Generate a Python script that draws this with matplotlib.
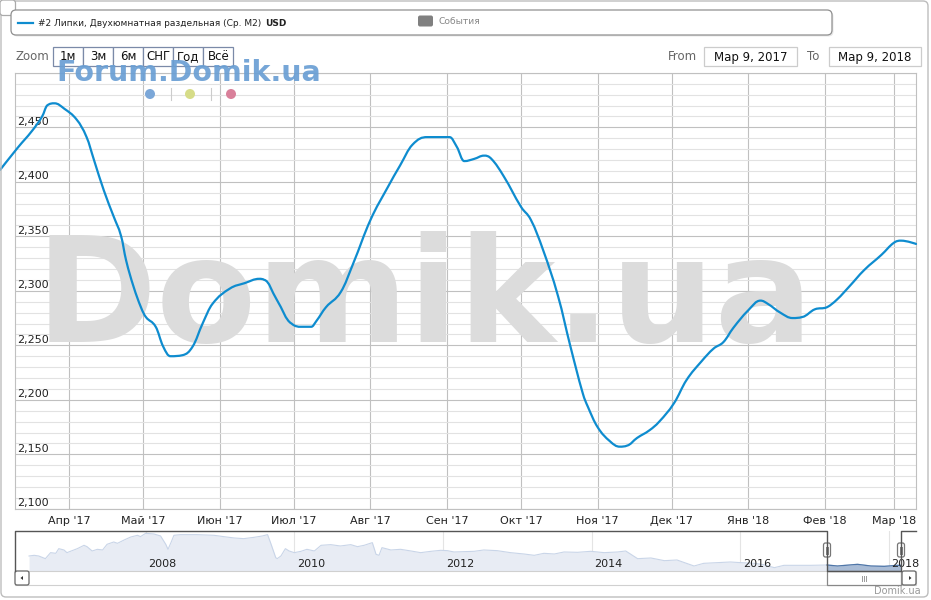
import matplotlib
matplotlib.use('Agg')
import matplotlib.pyplot as plt
import matplotlib.dates as mdates
from matplotlib.patches import FancyBboxPatch, Rectangle, Circle, Polygon, PathPatch
from matplotlib.path import Path
from matplotlib.lines import Line2D
import numpy as np
import pandas as pd
from datetime import datetime

plt.rcParams['font.family'] = ['DejaVu Sans']

# ---------------- data ----------------
dates = [
    "2017-03-04", "2017-03-11", "2017-03-17", "2017-03-21", "2017-03-23", "2017-03-26",
    "2017-03-30", "2017-04-04", "2017-04-08", "2017-04-11", "2017-04-15", "2017-04-19",
    "2017-04-22", "2017-04-24", "2017-04-27", "2017-04-30", "2017-05-02", "2017-05-06",
    "2017-05-09", "2017-05-12", "2017-05-17", "2017-05-21", "2017-05-25", "2017-05-29",
    "2017-06-05", "2017-06-11", "2017-06-17", "2017-06-19", "2017-06-24", "2017-06-30",
    "2017-07-04", "2017-07-08", "2017-07-10", "2017-07-14", "2017-07-20", "2017-07-25",
    "2017-08-01", "2017-08-08", "2017-08-13", "2017-08-18", "2017-08-24", "2017-09-02",
    "2017-09-05", "2017-09-08", "2017-09-12", "2017-09-16", "2017-09-19", "2017-09-24",
    "2017-10-01", "2017-10-05", "2017-10-10", "2017-10-16", "2017-10-21", "2017-10-26",
    "2017-10-28", "2017-11-01", "2017-11-06", "2017-11-10", "2017-11-13", "2017-11-17",
    "2017-11-22", "2017-11-26", "2017-12-02", "2017-12-07", "2017-12-13", "2017-12-18",
    "2017-12-22", "2017-12-26", "2018-01-01", "2018-01-06", "2018-01-09", "2018-01-14",
    "2018-01-19", "2018-01-23", "2018-01-28", "2018-02-02", "2018-02-06", "2018-02-11",
    "2018-02-17", "2018-02-24", "2018-03-01", "2018-03-04", "2018-03-10",
]
prices = [
    2411, 2431, 2447, 2460, 2470, 2472,
    2467, 2457, 2441, 2420, 2392, 2368,
    2350, 2328, 2304, 2285, 2276, 2267,
    2249, 2240, 2241, 2249, 2270, 2288,
    2302, 2307, 2311, 2310, 2292, 2270,
    2267, 2267, 2272, 2285, 2299, 2325,
    2365, 2395, 2415, 2434, 2441, 2441,
    2432, 2419, 2421, 2424, 2421, 2405,
    2377, 2365, 2337, 2295, 2249, 2206,
    2194, 2175, 2162, 2157, 2158, 2165,
    2172, 2180, 2197, 2218, 2235, 2247,
    2253, 2266, 2282, 2291, 2288, 2280,
    2275, 2276, 2283, 2285, 2292, 2304,
    2319, 2333, 2344, 2346, 2343,
]
month_ticks = ["2017-04-01", "2017-05-01", "2017-06-01", "2017-07-01", "2017-08-01",
               "2017-09-01", "2017-10-01", "2017-11-01", "2017-12-01", "2018-01-01",
               "2018-02-01", "2018-03-01"]
month_labels = ["Апр '17", "Май '17", "Июн '17", "Июл '17", "Авг '17", "Сен '17",
                "Окт '17", "Ноя '17", "Дек '17", "Янв '18", "Фев '18", "Мар '18"]
y_labels = [2100, 2150, 2200, 2250, 2300, 2350, 2400, 2450]

nav_years = [
    2006.43, 2006.50, 2006.56, 2006.65, 2006.72, 2006.79, 2006.83, 2006.90, 2006.94, 2007.01,
    2007.08, 2007.17, 2007.21, 2007.28, 2007.35, 2007.42, 2007.48, 2007.57, 2007.62, 2007.71,
    2007.80, 2007.89, 2007.93, 2008.00, 2008.11, 2008.20, 2008.27, 2008.30, 2008.34, 2008.38,
    2008.47, 2008.69, 2008.92, 2009.05, 2009.19, 2009.32, 2009.46, 2009.57, 2009.64, 2009.68,
    2009.75, 2009.77, 2009.82, 2009.88, 2009.93, 2010.00, 2010.09, 2010.17, 2010.27, 2010.36,
    2010.49, 2010.62, 2010.76, 2010.85, 2010.94, 2011.05, 2011.10, 2011.14, 2011.18, 2011.30,
    2011.43, 2011.57, 2011.70, 2011.84, 2011.97, 2012.06, 2012.15, 2012.42, 2012.55, 2012.73,
    2012.91, 2013.09, 2013.23, 2013.36, 2013.50, 2013.63, 2013.81, 2013.99, 2014.17, 2014.35,
    2014.46, 2014.53, 2014.62, 2014.80, 2014.98, 2015.15, 2015.38, 2015.51, 2015.69, 2015.87,
    2016.01, 2016.19, 2016.32, 2016.46, 2016.59, 2016.77, 2016.95, 2017.17, 2017.31, 2017.58,
    2017.76, 2017.94, 2018.12, 2018.16,
]
nav_values = [
    2900, 2940, 2900, 2740, 3100, 3060, 3340, 3260, 3100, 3220,
    3340, 3540, 3460, 3200, 3300, 3260, 3600, 3740, 3660, 3860,
    4040, 4140, 4060, 4260, 4220, 4100, 3600, 3300, 3700, 4140,
    4180, 4180, 4140, 4060, 3980, 3940, 4020, 4100, 4180, 3700,
    2800, 2740, 2900, 3340, 3200, 3100, 3180, 3300, 3200, 3540,
    3580, 3500, 3580, 3460, 3540, 3700, 3000, 2940, 3400, 3260,
    3300, 3200, 3100, 3180, 3240, 3220, 3140, 3180, 3260, 3220,
    3100, 3020, 2940, 3060, 3020, 3140, 3120, 3180, 3100, 3140,
    3200, 3000, 2740, 2780, 2620, 2660, 2300, 2460, 2500, 2540,
    2500, 2460, 2380, 2200, 2340, 2340, 2340, 2360, 2300, 2400,
    2300, 2280, 2340, 2340,
]
nav_year_ticks = [2008, 2010, 2012, 2014, 2016, 2018]
zoom_buttons = ["1м", "3м", "6м", "СНГ", "Год", "Всё"]
series_name = "#2 Липки, Двухюмнатная раздельная (Ср. М2)"
currency = "USD"
range_from = "Мар 9, 2017"
range_to = "Мар 9, 2018"


def spline_path(xs, ys, smoothing=1.5):
    """Smooth rendering (Highcharts-style spline) through the given points."""
    n = len(xs)
    denom = smoothing + 1
    lc = [(xs[i], ys[i]) for i in range(n)]
    rc = [(xs[i], ys[i]) for i in range(n)]
    for i in range(1, n - 1):
        px, py = xs[i], ys[i]
        lx = (smoothing * px + xs[i - 1]) / denom
        ly = (smoothing * py + ys[i - 1]) / denom
        rx = (smoothing * px + xs[i + 1]) / denom
        ry = (smoothing * py + ys[i + 1]) / denom
        if rx != lx:
            corr = ((ry - ly) * (rx - px)) / (rx - lx) + py - ry
            ly += corr
            ry += corr
        ly_prev, ly_next = ys[i - 1], ys[i + 1]
        if ly > ly_prev and ly > py:
            ly = max(ly_prev, py)
            ry = 2 * py - ly
        elif ly < ly_prev and ly < py:
            ly = min(ly_prev, py)
            ry = 2 * py - ly
        if ry > ly_next and ry > py:
            ry = max(ly_next, py)
            ly = 2 * py - ry
        elif ry < ly_next and ry < py:
            ry = min(ly_next, py)
            ly = 2 * py - ry
        lc[i] = (lx, ly)
        rc[i] = (rx, ry)
    verts = [(xs[0], ys[0])]
    codes = [Path.MOVETO]
    for i in range(1, n):
        verts += [rc[i - 1], lc[i], (xs[i], ys[i])]
        codes += [Path.CURVE4] * 3
    return Path(verts, codes)


# ---------------- figure ----------------
W, H = 931, 600
fig = plt.figure(figsize=(W / 100, H / 100), dpi=100)
fig.patch.set_facecolor('white')

ov = fig.add_axes([0, 0, 1, 1], zorder=5)
ov.set_xlim(0, W)
ov.set_ylim(H, 0)
ov.axis('off')
ov.patch.set_alpha(0)

top_px, bot_px, left_px, right_px = 72.8, 508.8, 15, 916
ax = fig.add_axes([left_px / W, 1 - bot_px / H, (right_px - left_px) / W, (bot_px - top_px) / H], zorder=2)
ax.set_facecolor('none')
x = pd.to_datetime(dates)
ax.set_xlim(datetime(2017, 3, 10), datetime(2018, 3, 10))
ax.set_ylim(2100, 2500)
ax.set_yticks(np.arange(2100, 2501, 50))
ax.set_yticks(np.arange(2100, 2501, 10), minor=True)
ax.set_xticks(pd.to_datetime(month_ticks))
ax.set_xticklabels(month_labels, fontsize=8, color='#222222')
ax.xaxis.set_minor_locator(matplotlib.ticker.NullLocator())
ax.grid(True, which='minor', axis='y', color='#e2e2e2', lw=0.8)
ax.grid(True, which='major', axis='y', color='#c0c0c0', lw=0.8)
ax.grid(True, which='major', axis='x', color='#c0c0c0', lw=0.8)
ax.tick_params(axis='both', which='both', length=0)
ax.tick_params(axis='x', pad=5)
ax.tick_params(axis='y', labelleft=False)
ax.set_axisbelow(True)
for s in ax.spines.values():
    s.set_color('#c0c0c0')
    s.set_linewidth(0.8)

for v in y_labels:
    ax.annotate(f"{v:,}", xy=(0, v), xycoords=('axes fraction', 'data'),
                xytext=(1.5, 0.3), textcoords='offset points', ha='left', va='bottom',
                fontsize=8, color='#222222')

ax.text(425, 341.7, 'Domik.ua', transform=ov.transData, ha='center', va='baseline',
        fontsize=105, fontweight='bold', color='#dcdcdc', zorder=1, clip_on=False)

xs = mdates.date2num(x.to_pydatetime())
path = spline_path(list(xs), list(map(float, prices)))
ax.add_patch(PathPatch(path, fill=False, ec='#0e8ccf', lw=1.6, zorder=3, clip_on=False,
                       capstyle='round', joinstyle='round'))

# ---------------- navigator ----------------
nav_top, nav_bot = 531.3, 571
nav = fig.add_axes([left_px / W, 1 - nav_bot / H, (right_px - left_px) / W, (nav_bot - nav_top) / H], zorder=1)
nav.set_facecolor('none')
nav.set_xlim(2006.241, 2018.367)
nav.set_ylim(2000, 4380)
ny = np.array(nav_years)
nv = np.array(nav_values)
nav.fill_between(ny, nv, 2000, color='#e8ecf4', lw=0)
nav.plot(ny, nv, color='#c9d5e8', lw=0.8)
sel = ny >= 2017.17
nav.fill_between(ny[sel], nv[sel], 2000, color='#a9bcd6', lw=0)
nav.plot(ny[sel], nv[sel], color='#4f76a8', lw=0.9)
nav.set_xticks(nav_year_ticks)
nav.set_yticks([])
nav.tick_params(axis='x', length=0, labelbottom=False)
nav.grid(True, axis='x', color='#e4e4e4', lw=0.8)
nav.set_axisbelow(True)
for s in nav.spines.values():
    s.set_visible(False)
for yr in nav_year_ticks:
    nav.annotate(str(yr), xy=(yr, 0), xycoords=('data', 'axes fraction'),
                 xytext=(2, 1.2), textcoords='offset points', ha='left', va='bottom',
                 fontsize=8, color='#222222', annotation_clip=False)

ov.add_line(Line2D([15, 15, 827, 827, 901, 901, 916],
                   [571, nav_top, nav_top, 571, 571, nav_top, nav_top],
                   color='#555555', lw=1))
for hx in (827, 901):
    ov.add_patch(FancyBboxPatch((hx - 3.5, 543), 7, 14, boxstyle='round,pad=0,rounding_size=2',
                                fc='white', ec='#777777', lw=0.9))
    ov.add_line(Line2D([hx - 1, hx - 1], [546.5, 553.5], color='#777777', lw=0.7))
    ov.add_line(Line2D([hx + 1, hx + 1], [546.5, 553.5], color='#777777', lw=0.7))

ov.add_patch(Rectangle((15, 571), 901, 14, fc='white', ec='#d0d0d0', lw=0.8))
ov.add_patch(FancyBboxPatch((15, 571), 14, 14, boxstyle='round,pad=0,rounding_size=2',
                            fc='white', ec='#666666', lw=0.9))
ov.add_patch(Polygon([[20.5, 578], [23, 576], [23, 580]], closed=True, fc='#333333', ec='none'))
ov.add_patch(FancyBboxPatch((902, 571), 14, 14, boxstyle='round,pad=0,rounding_size=2',
                            fc='white', ec='#666666', lw=0.9))
ov.add_patch(Polygon([[911.5, 578], [909, 576], [909, 580]], closed=True, fc='#333333', ec='none'))
ov.add_patch(Rectangle((827, 571), 74, 14, fc='white', ec='#888888', lw=0.9))
for lx in (862, 864, 866):
    ov.add_line(Line2D([lx, lx], [575.5, 580.5], color='#999999', lw=0.7))

# ---------------- chrome ----------------
ov.add_patch(FancyBboxPatch((1, 1), 927, 596, boxstyle='round,pad=0,rounding_size=5',
                            fc='none', ec='#bdbdbd', lw=1))
ov.add_patch(FancyBboxPatch((0, 0), 15.5, 15.5, boxstyle='round,pad=0,rounding_size=3',
                            fc='white', ec='#aaaaaa', lw=0.9))
ov.text(921, 591, 'Domik.ua', ha='right', va='center', fontsize=7, color='#999999')

ov.add_patch(FancyBboxPatch((12.5, 11.5), 821, 25, boxstyle='round,pad=0,rounding_size=5',
                            fc='#d8d8d8', ec='none', alpha=0.6))
ov.add_patch(FancyBboxPatch((11, 10), 821, 25, boxstyle='round,pad=0,rounding_size=5',
                            fc='white', ec='#909090', lw=0.9))
ov.add_line(Line2D([18, 33], [22.5, 22.5], color='#0e8ccf', lw=1.6))
t_leg = ov.text(38.5, 23, series_name, ha='left', va='center', fontsize=6.5, color='#222222')
ov.annotate(currency, xy=(1, 0), xycoords=t_leg, xytext=(2.5, 0), textcoords='offset points',
            ha='left', va='bottom', fontsize=6.5, fontweight='bold', color='#222222')
ov.add_patch(FancyBboxPatch((418, 15.5), 15, 11, boxstyle='round,pad=0,rounding_size=2',
                            fc='#808080', ec='none'))
ov.text(438.5, 22, 'События', ha='left', va='center', fontsize=6.6, color='#888888')

ov.text(15.5, 57, 'Zoom', ha='left', va='center', fontsize=8.5, color='#666666')
bx = [53.3, 83.3, 113.3, 143.3, 173.3, 203.3, 233.3]
for i, lab in enumerate(zoom_buttons):
    ov.add_patch(Rectangle((bx[i], 47.3), bx[i + 1] - bx[i], 18.4, fc='white', ec='#7b8aa8', lw=0.9))
    ov.text((bx[i] + bx[i + 1]) / 2, 57, lab, ha='center', va='center', fontsize=8.5, color='#111111')

ov.text(668, 57, 'From', ha='left', va='center', fontsize=8.5, color='#666666')
ov.add_patch(Rectangle((704, 47.3), 93, 18.4, fc='white', ec='#cccccc', lw=0.9))
ov.text(750.5, 57, range_from, ha='center', va='center', fontsize=8.5, color='#111111')
ov.text(807, 57, 'To', ha='left', va='center', fontsize=8.5, color='#666666')
ov.add_patch(Rectangle((829, 47.3), 92, 18.4, fc='white', ec='#cccccc', lw=0.9))
ov.text(875, 57, range_to, ha='center', va='center', fontsize=8.5, color='#111111')

ov.text(56, 80.7, 'Forum.Domik.ua', ha='left', va='baseline', fontsize=20.5, fontweight='bold',
        color='#6a9fd4', alpha=0.92)
for cx, col in ((150, '#7ba7d8'), (190, '#d6dc88'), (231, '#d9809a')):
    ov.add_patch(Circle((cx, 94), 5, fc=col, ec='none'))
for sx in (170.5, 211):
    ov.add_line(Line2D([sx, sx], [88, 100], color='#cccccc', lw=0.8))

fig.savefig('out.png', dpi=100, facecolor='white')
